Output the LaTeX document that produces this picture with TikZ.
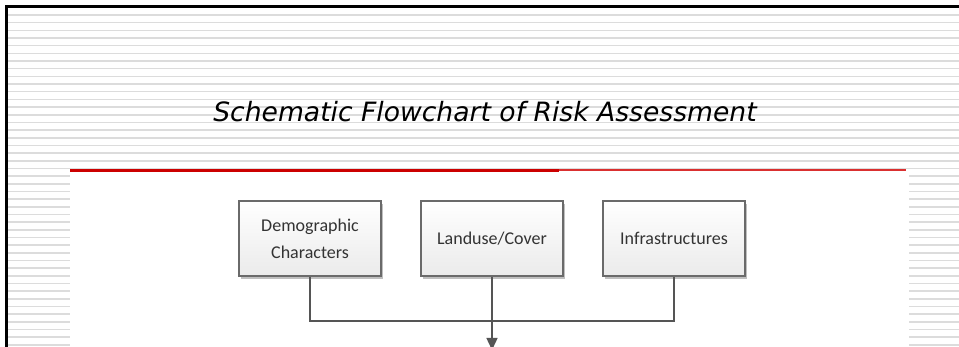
\documentclass[tikz,border=0pt]{standalone}
\usepackage{fontspec}
\setmainfont{DejaVu Sans}
\newfontfamily\boxfont{Carlito}
\usetikzlibrary{arrows.meta,shadows}
\definecolor{stripecol}{HTML}{DCDCDC}
\definecolor{boxline}{HTML}{6A6A6A}
\definecolor{boxtext}{HTML}{333333}
\definecolor{connector}{HTML}{555555}
\definecolor{redline}{HTML}{CC0000}
\definecolor{thinred}{HTML}{DA3030}
\tikzset{
  flowbox/.style={draw=boxline, line width=1.3pt, minimum width=142pt, minimum height=75pt,
    top color=white, bottom color=black!8, align=center, text=boxtext,
    font=\boxfont\fontsize{18}{27}\selectfont, inner sep=0pt,
    drop shadow={shadow xshift=2pt, shadow yshift=-3pt, opacity=0.25, fill=black}},
  link/.style={draw=connector, line width=1.4pt},
}
\begin{document}
\begin{tikzpicture}[x=1pt,y=-1pt]
\useasboundingbox (0,0) rectangle (959,347);
\clip (0,0) rectangle (959,347);
\fill[white] (0,0) rectangle (959,347);
\foreach \k in {0,...,43}
  \draw[stripecol, line width=1.6pt] (6,{15+7.67*\k}) -- (959,{15+7.67*\k});
\fill[white] (70,169) rectangle (909,347);
\draw[black, line width=2.4pt] (6.5,348) -- (6.5,6.5) -- (960,6.5);
\fill[redline] (70,169.5) rectangle (559,172.5);
\fill[thinred] (559,169.2) rectangle (906,171);
\node[anchor=base, font=\fontsize{26.6}{30}\selectfont\itshape] (title) at (485,122) {Schematic Flowchart of Risk Assessment};
\node[flowbox] (d) at (310,238.5) {Demographic\\Characters};
\node[flowbox] (l) at (492,238.5) {Landuse/Cover};
\node[flowbox] (i) at (674,238.5) {Infrastructures};
\coordinate (jn) at (492,321);
\coordinate (arrowend) at (492,350);
\draw[link] (d.south) |- (jn) -| (i.south);
\draw[link, -{Triangle[length=12pt,width=11pt]}] (l.south) -- (arrowend);
\end{tikzpicture}
\end{document}
